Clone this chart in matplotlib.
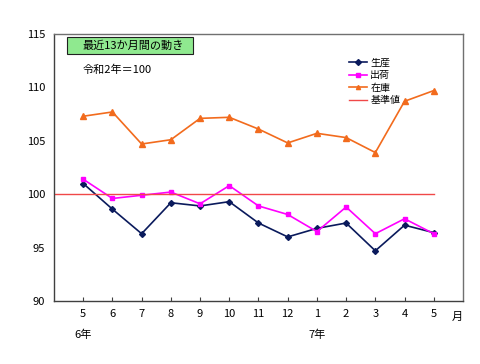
import matplotlib
matplotlib.use("Agg")
import matplotlib.pyplot as plt
import matplotlib.transforms as mtransforms
from matplotlib.patches import Rectangle

plt.rcParams["font.family"] = ["Noto Sans CJK JP", "DejaVu Sans"]

# Data: last 13 months (Reiwa 6/5 to Reiwa 7/5), base 2020 = 100
months = ["5", "6", "7", "8", "9", "10", "11", "12", "1", "2", "3", "4", "5"]
production = [101.0, 98.6, 96.3, 99.2, 98.9, 99.3, 97.3, 96.0, 96.8, 97.3, 94.7, 97.1, 96.4]
shipments = [101.4, 99.6, 99.9, 100.2, 99.1, 100.8, 98.9, 98.1, 96.5, 98.8, 96.3, 97.7, 96.3]
inventory = [107.3, 107.7, 104.7, 105.1, 107.1, 107.2, 106.1, 104.8, 105.7, 105.3, 103.9, 108.7, 109.7]
base_value = 100
year_labels = {0: "6年", 8: "7年"}

x = list(range(len(months)))

fig = plt.figure(figsize=(4.8, 3.64), dpi=100)
ax = fig.add_axes([0.1125, 0.1731, 0.852, 0.7335])

ax.plot(x, production, color="#0a1a5c", marker="D", markersize=3, lw=1.2, label="生産")
ax.plot(x, shipments, color="#ff00ff", marker="s", markersize=3.5, lw=1.2, label="出荷")
ax.plot(x, inventory, color="#f26b1d", marker="^", markersize=4, lw=1.2, label="在庫")
ax.plot([-1, x[-1]], [base_value, base_value], color="#f04848", lw=1.0, label="基準値")

ax.set_xlim(-1, len(months))
ax.set_ylim(90, 115)
ax.set_yticks([90, 95, 100, 105, 110, 115])
ax.set_xticks(x)
ax.set_xticklabels(months)
ax.tick_params(axis="x", direction="in", length=3, width=0.8, color="#404040",
               labelsize=8, pad=6)
ax.tick_params(axis="y", length=0, labelsize=8, pad=6.5)

for side in ["left", "bottom"]:
    ax.spines[side].set_color("#404040")
    ax.spines[side].set_linewidth(1.0)
for side in ["top", "right"]:
    ax.spines[side].set_color("#707070")
    ax.spines[side].set_linewidth(1.0)

trans = mtransforms.blended_transform_factory(ax.transData, ax.transAxes)
for i, lab in year_labels.items():
    ax.text(i, -0.125, lab, transform=trans, ha="center", va="center", fontsize=8)
ax.text(len(months) - 0.2, -0.06, "月", transform=trans, ha="center", va="center", fontsize=8)

# title box
ax.add_patch(Rectangle((0.032, 0.925), 0.308, 0.064, transform=ax.transAxes,
                       facecolor="#8fe98f", edgecolor="#202020", lw=0.8, zorder=3))
ax.text(0.07, 0.957, "最近13か月間の動き", transform=ax.transAxes, fontsize=8,
        ha="left", va="center", zorder=4)
ax.text(0.07, 0.865, "令和2年＝100", transform=ax.transAxes, fontsize=8,
        ha="left", va="center")

leg = ax.legend(loc="upper left", bbox_to_anchor=(0.71, 0.93), frameon=False, fontsize=7.2,
                handlelength=1.8, handletextpad=0.3, labelspacing=0.25, borderpad=0)
for h in leg.legend_handles:
    h.set_markersize(3)

fig.savefig("out.png", dpi=100)
